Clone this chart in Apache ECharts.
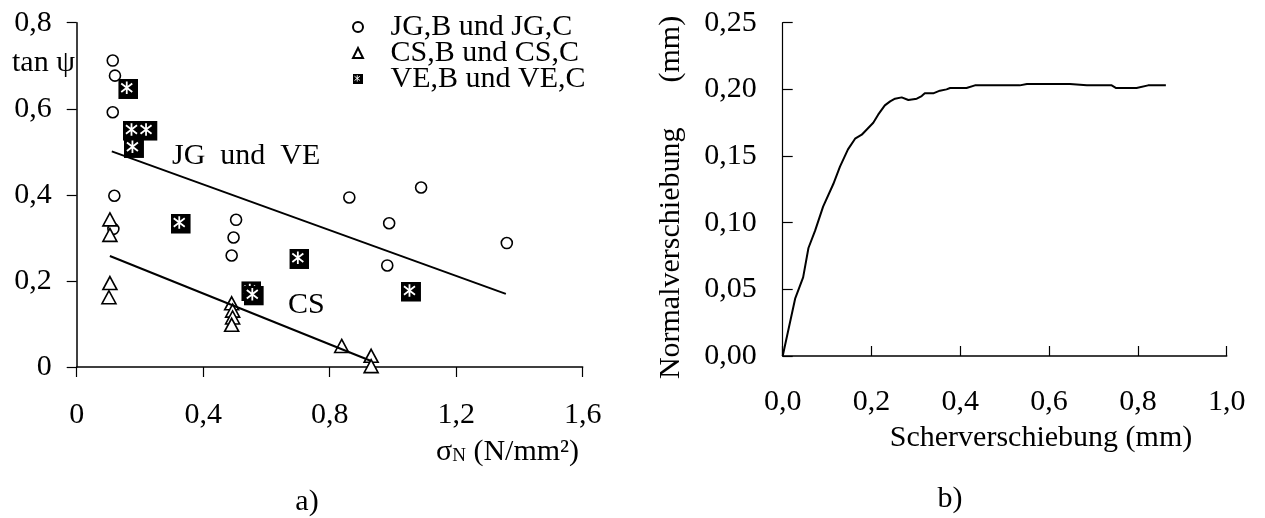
<!DOCTYPE html>
<html>
<head>
<meta charset="utf-8">
<script src="https://cdn.jsdelivr.net/npm/echarts@6/dist/echarts.min.js"></script>
<style>
  html, body { margin: 0; padding: 0; background: #fff; }
  #chart { width: 1265px; height: 518px; }
</style>
</head>
<body>
<div id="chart"></div>
<script>
// a) tan psi over sigma_N
const jgPoints = [
  [0.114, 0.712], [0.121, 0.677], [0.114, 0.592], [0.119, 0.398], [0.116, 0.321],
  [0.504, 0.342], [0.496, 0.301], [0.490, 0.259],
  [0.862, 0.394], [1.089, 0.417], [0.988, 0.334], [1.360, 0.288], [0.982, 0.236],
]
const csPoints = [
  [0.105, 0.343], [0.105, 0.307], [0.105, 0.195], [0.102, 0.162],
  [0.490, 0.148], [0.493, 0.131], [0.493, 0.115], [0.490, 0.098],
  [0.838, 0.049], [0.931, 0.026], [0.931, 0.002],
]
const vePoints = [
  [0.163, 0.646], [0.178, 0.549], [0.224, 0.549], [0.181, 0.509],
  [0.329, 0.333], [0.704, 0.251], [0.552, 0.176], [0.560, 0.166], [1.057, 0.175],
]
const jgVeFit = [[0.111, 0.501], [1.357, 0.170]]
const csFit = [[0.105, 0.258], [0.931, 0.014]]
const sigmaTicks = ['0', '0,4', '0,8', '1,2', '1,6']
const tanTicks = ['0', '0,2', '0,4', '0,6', '0,8']

// b) Normalverschiebung over Scherverschiebung
const shearCurve = [
  [0, 0], [0.028, 0.043], [0.046, 0.059], [0.058, 0.081], [0.073, 0.094],
  [0.091, 0.112], [0.114, 0.129], [0.129, 0.142], [0.147, 0.155], [0.163, 0.163],
  [0.178, 0.166], [0.204, 0.175], [0.215, 0.181], [0.230, 0.188], [0.242, 0.191],
  [0.253, 0.193], [0.268, 0.194], [0.283, 0.192], [0.302, 0.193], [0.313, 0.195],
  [0.320, 0.197], [0.339, 0.197], [0.354, 0.199], [0.369, 0.200], [0.377, 0.201],
  [0.414, 0.201], [0.433, 0.203], [0.534, 0.203], [0.550, 0.204], [0.647, 0.204],
  [0.685, 0.203], [0.741, 0.203], [0.751, 0.201], [0.797, 0.201], [0.823, 0.203],
  [0.863, 0.203],
]
const shearTicks = ['0,0', '0,2', '0,4', '0,6', '0,8', '1,0']
const normalTicks = ['0,00', '0,05', '0,10', '0,15', '0,20', '0,25']

const FONT = '"Liberation Serif", "Times New Roman", serif'
const veSvg =
  "<svg xmlns='http://www.w3.org/2000/svg' width='20' height='20' viewBox='0 0 20 20'>" +
  "<rect width='20' height='20' fill='black'/>" +
  "<path d='M8.5 2.5V15M3 4.5L14 13M14 4.5L3 13' stroke='white' stroke-width='1.8' fill='none'/></svg>"
const veSymbol = 'image://data:image/svg+xml;charset=utf-8,' + encodeURIComponent(veSvg)

function tickLabel(list, step) {
  return (v) => list[Math.round(v / step)] ?? ''
}

const axisBase = {
  splitLine: { show: false },
  axisLine: { lineStyle: { color: '#000', width: 1.5 } },
  axisTick: { length: 10, lineStyle: { color: '#000', width: 1.2 } },
  axisLabel: { color: '#000', fontFamily: FONT, fontSize: 30 },
}

function text(x, y, str, extra = {}) {
  return {
    type: 'text',
    x,
    y,
    rotation: extra.rotation || 0,
    style: {
      text: str,
      font: '30px ' + FONT,
      fill: '#000',
      align: extra.align || 'left',
      verticalAlign: 'middle',
      rich: extra.rich,
    },
  }
}

const chart = echarts.init(document.getElementById('chart'))
chart.setOption({
  animation: false,
  backgroundColor: '#fff',
  grid: [
    { left: 76.7, top: 22.7, width: 506, height: 344.3 },
    { left: 782.7, top: 22.7, width: 444, height: 333.3 },
  ],
  xAxis: [
    {
      ...axisBase,
      gridIndex: 0,
      type: 'value',
      min: 0,
      max: 1.6,
      interval: 0.4,
      axisLabel: { ...axisBase.axisLabel, margin: 33, formatter: tickLabel(sigmaTicks, 0.4) },
    },
    {
      ...axisBase,
      gridIndex: 1,
      type: 'value',
      min: 0,
      max: 1.0,
      interval: 0.2,
      axisTick: { ...axisBase.axisTick, inside: true },
      axisLabel: { ...axisBase.axisLabel, margin: 31, formatter: tickLabel(shearTicks, 0.2) },
    },
  ],
  yAxis: [
    {
      ...axisBase,
      gridIndex: 0,
      type: 'value',
      min: 0,
      max: 0.8,
      interval: 0.2,
      axisLabel: { ...axisBase.axisLabel, margin: 25, formatter: tickLabel(tanTicks, 0.2) },
    },
    {
      ...axisBase,
      gridIndex: 1,
      type: 'value',
      min: 0,
      max: 0.25,
      interval: 0.05,
      axisLine: { lineStyle: { color: '#000', width: 1.2 } },
      axisTick: { ...axisBase.axisTick, inside: true },
      axisLabel: { ...axisBase.axisLabel, margin: 26, formatter: tickLabel(normalTicks, 0.05) },
    },
  ],
  legend: {
    left: 347,
    top: 7,
    orient: 'vertical',
    itemGap: -4,
    itemWidth: 10,
    itemHeight: 10,
    textStyle: { fontFamily: FONT, fontSize: 30, color: '#000' },
    formatter: (name) => '   ' + name,
    data: ['JG,B und JG,C', 'CS,B und CS,C', 'VE,B und VE,C'],
  },
  series: [
    {
      type: 'line',
      xAxisIndex: 0,
      yAxisIndex: 0,
      data: jgVeFit,
      symbol: 'none',
      silent: true,
      lineStyle: { color: '#000', width: 2 },
    },
    {
      type: 'line',
      xAxisIndex: 0,
      yAxisIndex: 0,
      data: csFit,
      symbol: 'none',
      silent: true,
      lineStyle: { color: '#000', width: 2 },
    },
    {
      name: 'JG,B und JG,C',
      type: 'scatter',
      xAxisIndex: 0,
      yAxisIndex: 0,
      data: jgPoints,
      symbol: 'circle',
      symbolSize: 11,
      itemStyle: { color: '#fff', borderColor: '#000', borderWidth: 1.6, opacity: 1 },
    },
    {
      name: 'VE,B und VE,C',
      type: 'scatter',
      xAxisIndex: 0,
      yAxisIndex: 0,
      data: vePoints,
      symbol: veSymbol,
      symbolSize: 20,
      itemStyle: { color: '#000', opacity: 1 },
    },
    {
      name: 'CS,B und CS,C',
      type: 'scatter',
      xAxisIndex: 0,
      yAxisIndex: 0,
      data: csPoints,
      symbol: 'triangle',
      symbolSize: [14, 13],
      itemStyle: { color: '#fff', borderColor: '#000', borderWidth: 1.6, opacity: 1 },
    },
    {
      type: 'line',
      xAxisIndex: 1,
      yAxisIndex: 1,
      data: shearCurve,
      symbol: 'none',
      silent: true,
      lineStyle: { color: '#000', width: 2 },
    },
  ],
  graphic: [
    text(12, 63, 'tan ψ'),
    text(172, 156, 'JG  und  VE'),
    text(288, 305, 'CS'),
    text(436, 452, '{s|σ}{n|N} (N/mm²)', {
      rich: {
        s: { fontFamily: FONT, fontSize: 30, fill: '#000' },
        n: { fontFamily: FONT, fontSize: 19, fill: '#000', padding: [8, 0, 0, 0] },
      },
    }),
    text(307, 502, 'a)', { align: 'center' }),
    text(1041, 438, 'Scherverschiebung (mm)', { align: 'center' }),
    text(671, 197.5, 'Normalverschiebung      (mm)', { align: 'center', rotation: Math.PI / 2 }),
    text(950, 499, 'b)', { align: 'center' }),
  ],
})
</script>
</body>
</html>
